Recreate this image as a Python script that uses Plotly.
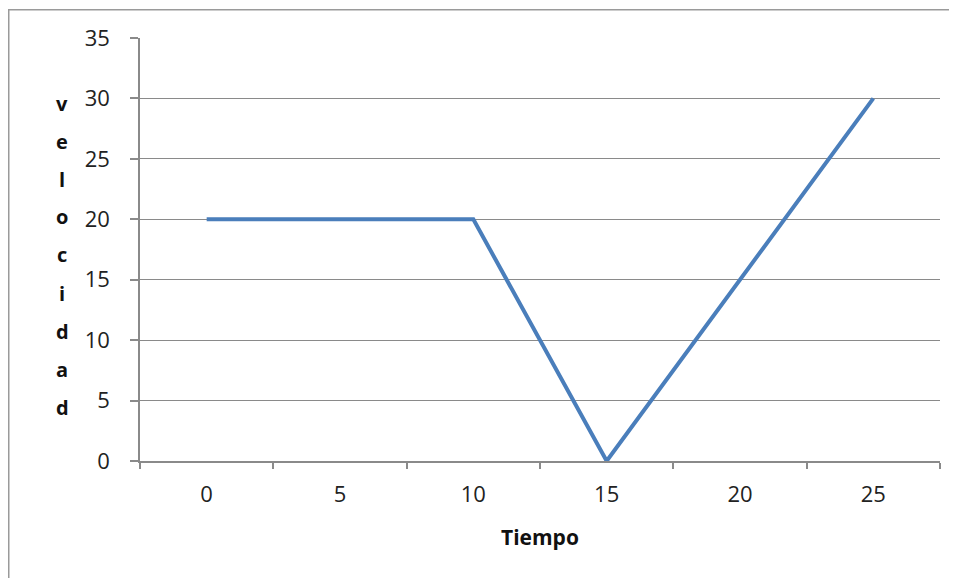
import plotly.graph_objects as go

tiempo = ["0", "5", "10", "15", "20", "25"]
velocidad = [20, 20, 20, 0, 15, 30]
y_title_letters = list("velocidad")
x_title = "Tiempo"

# page is rendered with an 8px body offset; compensate
OFF = 8
W, H = 957 - OFF, 578 - OFF
L, R, T, B = 140 - OFF, 17, 38 - OFF, 117
PW, PH = W - L - R, H - T - B


def px_x(x):
    return (x - OFF - L) / PW


def px_y(y):
    return (H - B - (y - OFF)) / PH


fig = go.Figure()
fig.add_trace(go.Scatter(
    x=tiempo, y=velocidad, mode="lines",
    line=dict(color="#4a7ebb", width=4),
    showlegend=False, hoverinfo="skip",
))

axis_col = "#8a8a8a"
fig.update_layout(
    width=W, height=H,
    margin=dict(l=L, r=R, t=T, b=B),
    paper_bgcolor="white", plot_bgcolor="white",
    font=dict(family="'Open Sans', sans-serif", size=22, color="#222222"),
    xaxis=dict(
        type="category", categoryorder="array", categoryarray=tiempo,
        range=[-0.5, 5.5], tickson="boundaries",
        ticks="outside", ticklen=6, tickcolor=axis_col, tickwidth=1.5,
        showline=True, linecolor=axis_col, linewidth=1.5,
        showgrid=False, zeroline=False,
        ticklabelstandoff=13,
    ),
    yaxis=dict(
        range=[0, 35], dtick=5, tick0=0,
        ticks="outside", ticklen=8, tickcolor=axis_col, tickwidth=1.5,
        showline=True, linecolor=axis_col, linewidth=1.5,
        showgrid=True, gridcolor=axis_col, gridwidth=1.2,
        zeroline=False, ticklabelstandoff=16,
    ),
)

# outer chart frame (top and left visible)
fig.add_shape(type="rect", xref="paper", yref="paper",
              x0=px_x(8.75), x1=px_x(990),
              y0=px_y(620), y1=px_y(9.75),
              line=dict(color="#9a9a9a", width=1.5), layer="below")

# x-axis title
fig.add_annotation(
    text=f"<b>{x_title}</b>", xref="paper", yref="paper",
    x=px_x(540), y=px_y(537), showarrow=False,
    xanchor="center", yanchor="middle",
    font=dict(size=21, color="#111111"),
)

# stacked y-axis title letters
n = len(y_title_letters)
top_px, bot_px = 103, 407
for i, ch in enumerate(y_title_letters):
    ypx = top_px + (bot_px - top_px) * i / (n - 1)
    fig.add_annotation(
        text=f"<b>{ch}</b>", xref="paper", yref="paper",
        x=px_x(62), y=px_y(ypx),
        showarrow=False, xanchor="center", yanchor="middle",
        font=dict(size=20, color="#111111"),
    )

fig.write_html("out.html")
